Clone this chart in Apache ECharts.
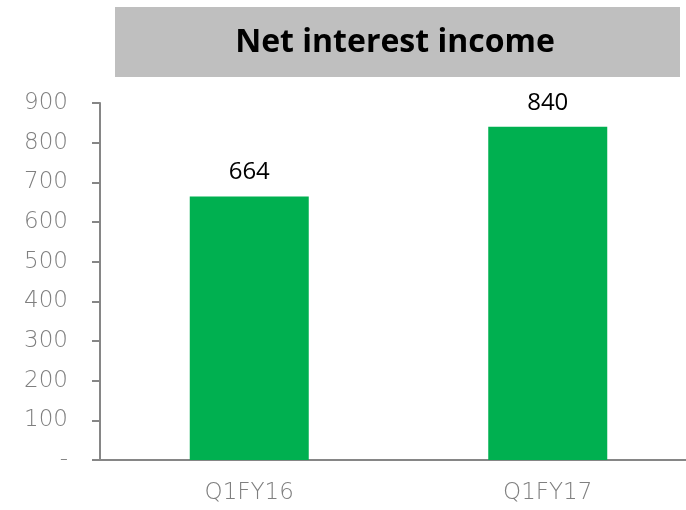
<!DOCTYPE html>
<html>
<head>
<meta charset="utf-8">
<script src="https://cdn.jsdelivr.net/npm/echarts@6/dist/echarts.min.js"></script>
<style>
  html, body { margin: 0; padding: 0; background: #fff; }
  #chart { width: 686px; height: 510px; }
</style>
</head>
<body>
<div id="chart"></div>
<script>
const categories = ['Q1FY16', 'Q1FY17']
const values = [664, 840]
const titleText = 'Net interest income'

const chart = echarts.init(document.getElementById('chart'))

const labelFont = '"DejaVu Sans", "Open Sans", sans-serif'

const option = {
  animation: false,
  graphic: [
    {
      type: 'rect',
      shape: { x: 115, y: 7, width: 565, height: 70 },
      style: { fill: '#bfbfbf' }
    },
    {
      type: 'text',
      x: 395,
      y: 43,
      style: {
        text: titleText,
        fill: '#000',
        font: 'bold 32px "Open Sans", Lato, sans-serif',
        textAlign: 'center',
        textVerticalAlign: 'middle'
      }
    }
  ],
  grid: {
    left: 100,
    top: 103,
    width: 597,
    height: 357,
    outerBoundsMode: 'none'
  },
  xAxis: {
    type: 'category',
    data: categories,
    axisLine: { lineStyle: { color: '#868686', width: 2 } },
    axisTick: { length: 8, lineStyle: { color: '#868686', width: 2 } },
    axisLabel: {
      color: '#7f7f7f',
      fontSize: 23,
      fontWeight: 200,
      fontFamily: labelFont,
      margin: 22
    }
  },
  yAxis: {
    type: 'value',
    min: 0,
    max: 900,
    interval: 100,
    splitLine: { show: false },
    axisLine: { show: true, lineStyle: { color: '#868686', width: 2 } },
    axisTick: { show: true, length: 8, lineStyle: { color: '#868686', width: 2 } },
    axisLabel: {
      color: '#7f7f7f',
      fontSize: 23,
      fontWeight: 200,
      fontFamily: labelFont,
      margin: 32,
      formatter: v => (v === 0 ? '-' : String(v))
    }
  },
  series: [
    {
      type: 'bar',
      data: values,
      barWidth: 119,
      itemStyle: { color: '#00b050' },
      label: {
        show: true,
        position: 'top',
        distance: 12,
        color: '#000',
        fontSize: 24,
        fontFamily: '"Open Sans", Lato, sans-serif'
      }
    }
  ]
}

chart.setOption(option)
</script>
</body>
</html>
